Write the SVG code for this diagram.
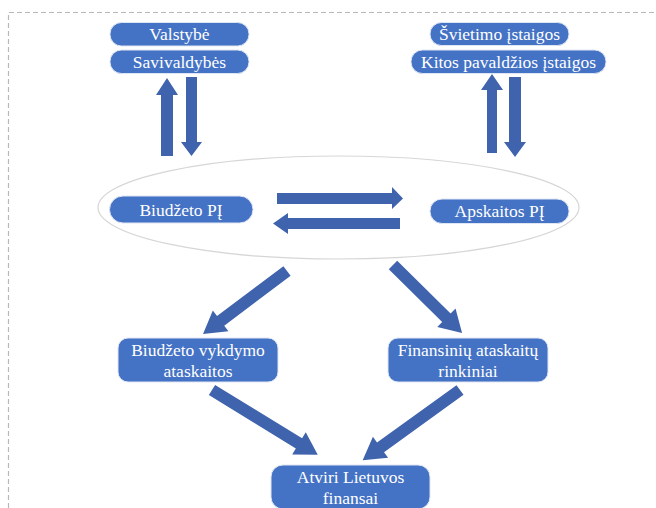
<svg xmlns="http://www.w3.org/2000/svg" width="656" height="508" viewBox="0 0 656 508">
  <defs>
    <style>
      .box { fill: #4472C4; stroke: #dfe6f3; stroke-width: 1; }
      .lbl { fill: #ffffff; font-family: "Liberation Serif", "Times New Roman", serif; font-size: 17.5px; text-anchor: middle; }
      .arr { fill: #3F63AD; }
    </style>
  </defs>

  <rect width="656" height="508" fill="#ffffff"/>
  <!-- frame -->
  <path d="M8.5,508 V12.5 H656" fill="none" stroke="#b8b8b8" stroke-width="1.2" stroke-dasharray="5 3"/>

  <!-- grouping ellipse around the two systems -->
  <ellipse cx="338.5" cy="207.5" rx="240.5" ry="51.5" fill="none" stroke="#d6d6d6" stroke-width="1.2"/>

  <g id="valstybe">
    <rect class="box" x="110" y="22.5" width="139" height="23.5" rx="11.5"/>
    <text class="lbl" x="179.5" y="40">Valstybė</text>
  </g>
  <g id="savivaldybes">
    <rect class="box" x="110" y="50" width="139" height="23.5" rx="11.5"/>
    <text class="lbl" x="179.5" y="67.5">Savivaldybės</text>
  </g>
  <g id="svietimo">
    <rect class="box" x="430" y="22.5" width="139" height="23" rx="11.5"/>
    <text class="lbl" x="499.5" y="40">Švietimo įstaigos</text>
  </g>
  <g id="kitos">
    <rect class="box" x="411" y="50" width="195" height="23.5" rx="11.5"/>
    <text class="lbl" x="508.5" y="67.5">Kitos pavaldžios įstaigos</text>
  </g>
  <g id="biudzeto-pi">
    <rect class="box" x="109.5" y="196" width="143.5" height="27" rx="13.5"/>
    <text class="lbl" x="181" y="215.5">Biudžeto PĮ</text>
  </g>
  <g id="apskaitos-pi">
    <rect class="box" x="430" y="199" width="139" height="24.5" rx="12"/>
    <text class="lbl" x="499.5" y="217">Apskaitos PĮ</text>
  </g>
  <g id="biudzeto-vykdymo">
    <rect class="box" x="118" y="338" width="160" height="44" rx="10"/>
    <text class="lbl" x="198" y="356">Biudžeto vykdymo</text>
    <text class="lbl" x="198" y="377">ataskaitos</text>
  </g>
  <g id="finansiniu">
    <rect class="box" x="388" y="338" width="160" height="44" rx="10"/>
    <text class="lbl" x="468" y="356">Finansinių ataskaitų</text>
    <text class="lbl" x="468" y="377">rinkiniai</text>
  </g>
  <g id="atviri">
    <rect class="box" x="271" y="465" width="159" height="44" rx="12"/>
    <text class="lbl" x="350.5" y="483">Atviri Lietuvos</text>
    <text class="lbl" x="350.5" y="503.5">finansai</text>
  </g>

  <g id="connectors">
    <!-- vertical exchange, left -->
    <polygon class="arr" points="161,156 161,95 156,95 167,78 178,95 173,95 173,156"/>
    <polygon class="arr" points="186,77 197,77 197,142 202,142 191.5,156 181,142 186,142"/>
    <!-- vertical exchange, right -->
    <polygon class="arr" points="487,153 487,90 481,90 492,74 503,90 497,90 497,153"/>
    <polygon class="arr" points="509,77 521,77 521,142 526,142 515,157 504,142 509,142"/>
    <!-- horizontal exchange -->
    <polygon class="arr" points="277,193 392,193 392,187 403,198.5 392,209 392,204 277,204"/>
    <polygon class="arr" points="400,218 288,218 288,213 273,223.5 288,234 288,229 400,229"/>
    <!-- diagonals -->
    <path class="arr" d="M0,-6 L83,-6 L83,-13 L105,0 L83,13 L83,6 L0,6 Z" transform="translate(287,271) rotate(143.1)"/>
    <path class="arr" d="M0,-6 L75,-6 L75,-13 L97,0 L75,13 L75,6 L0,6 Z" transform="translate(393,265) rotate(44.6)"/>
    <path class="arr" d="M0,-6 L102,-6 L102,-13 L124,0 L102,13 L102,6 L0,6 Z" transform="translate(212,390) rotate(31.5)"/>
    <path class="arr" d="M0,-6 L98,-6 L98,-13 L120,0 L98,13 L98,6 L0,6 Z" transform="translate(460,390) rotate(144.2)"/>
  </g>
</svg>
